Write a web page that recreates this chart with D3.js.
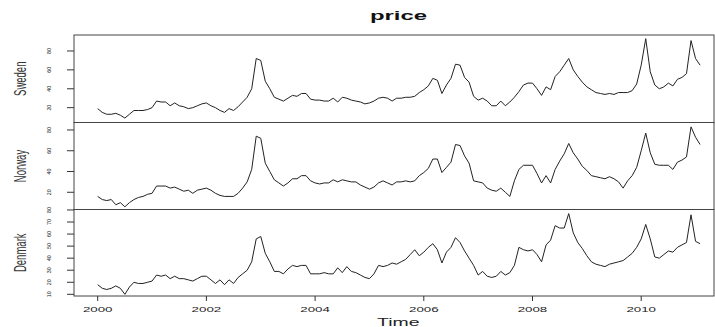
<!DOCTYPE html>
<html>
<head>
<meta charset="utf-8">
<script src="https://cdn.jsdelivr.net/npm/d3@7"></script>
<style>
  body { margin: 0; background: #fff; }
  svg { display: block; font-family: "Liberation Sans", Arial, sans-serif; }
</style>
</head>
<body>
<svg id="chart" width="715" height="327"></svg>
<script>
// monthly series, Jan 2000 .. Feb 2011
const startYear = 2000;
const freq = 12;

const sweden = [19,15,13,13,14,12,9,13,17,17,17,18,20,27,26,26,22,25,22,21,19,20,22,24,
  25,22,20,17,15,19,17,21,26,31,40,72,70,48,40,31,29,27,30,33,32,35,35,29,
  28,28,27,27,30,26,31,30,28,27,26,24,25,27,30,31,30,27,30,30,31,31,32,36,
  39,43,51,49,35,44,51,66,65,52,47,32,28,30,27,22,22,27,22,26,31,37,44,46,
  46,40,33,42,39,53,58,65,72,60,53,47,42,39,36,35,34,35,34,36,36,36,38,45,
  65,93,58,44,40,42,46,43,50,52,56,91,72,65];

const norway = [16,13,12,13,8,10,6,10,13,15,16,18,19,26,26,26,24,25,23,21,22,19,22,23,
  24,22,19,17,16,16,16,19,24,30,42,74,72,48,40,32,29,26,29,33,33,36,36,31,
  29,28,29,29,32,30,32,31,30,30,27,25,23,25,29,31,29,27,30,30,31,30,31,36,
  39,43,52,52,39,44,49,66,65,55,48,31,30,29,24,22,21,24,20,16,31,42,46,46,
  46,38,29,36,29,42,50,57,67,58,52,45,41,36,35,34,33,35,33,30,24,31,36,44,
  60,77,58,47,46,46,46,42,49,51,54,83,73,66];

const denmark = [18,15,14,15,17,15,10,16,20,19,19,20,21,26,25,26,23,25,23,23,22,21,23,25,
  25,22,19,22,18,22,19,24,27,30,37,56,58,44,37,29,29,27,31,34,33,34,34,27,
  27,27,28,27,27,32,28,33,29,28,26,24,23,27,34,33,34,36,35,37,39,43,47,42,
  45,49,52,47,36,45,49,57,53,46,40,34,26,29,25,24,25,29,26,28,34,49,47,46,
  47,43,37,51,55,67,65,65,77,61,53,48,42,37,35,34,33,35,36,37,38,41,44,49,
  56,68,56,41,40,43,46,45,49,51,53,76,54,52];

const panelNames = ["Sweden", "Norway", "Denmark"];
const panelSeries = [sweden, norway, denmark];
const panelDomains = [[4.3, 96.9], [3.4, 87.2], [8.6, 80.4]];
const panelTicks = [[20, 40, 60, 80], [20, 40, 60, 80], [10, 20, 30, 40, 50, 60, 70, 80]];
const yearTicks = [2000, 2002, 2004, 2006, 2008, 2010];

const svg = d3.select("#chart");
const left = 74, right = 714;
const panelEdges = [35, 122.5, 209.5, 296];

const x = d3.scaleLinear().domain([2000, 2010]).range([97.7, 641.2]);

// squashed text like the original raster
function squash(sel, factor) {
  sel.each(function() {
    const n = d3.select(this);
    const w = this.getComputedTextLength();
    n.attr("textLength", w * factor).attr("lengthAdjust", "spacingAndGlyphs");
  });
}

panelNames.forEach((name, p) => {
  const top = panelEdges[p], bottom = panelEdges[p + 1];
  const y = d3.scaleLinear().domain(panelDomains[p]).range([bottom, top]);
  const data = panelSeries[p].map((v, i) => ({ t: startYear + i / freq, v: v }));

  const line = d3.line().x(d => x(d.t)).y(d => y(d.v));
  svg.append("path")
    .datum(data)
    .attr("d", line)
    .attr("fill", "none")
    .attr("stroke", "#222")
    .attr("stroke-width", 1)
    .attr("stroke-linejoin", "round");

  svg.append("rect")
    .attr("x", left).attr("y", top)
    .attr("width", right - left).attr("height", bottom - top)
    .attr("fill", "none")
    .attr("stroke", "#444")
    .attr("stroke-width", 1);

  // y ticks
  const g = svg.append("g");
  g.selectAll("line")
    .data(panelTicks[p])
    .join("line")
    .attr("x1", 67).attr("x2", left)
    .attr("y1", d => y(d)).attr("y2", d => y(d))
    .attr("stroke", "#333");

  g.selectAll("text")
    .data(panelTicks[p])
    .join("text")
    .attr("transform", d => `translate(51,${y(d)}) rotate(-90)`)
    .attr("text-anchor", "middle")
    .attr("font-size", 6.2)
    .attr("fill", "#222")
    .text(d => d)
    .call(squash, 0.85);

  svg.append("text")
    .attr("transform", `translate(25.5,${(top + bottom) / 2}) rotate(-90)`)
    .attr("text-anchor", "middle")
    .attr("font-size", 17)
    .attr("fill", "#333")
    .text(name)
    .call(squash, 0.56);
});

// x axis on bottom panel
const bottomY = panelEdges[3];
const xg = svg.append("g");
xg.selectAll("line")
  .data(yearTicks)
  .join("line")
  .attr("x1", d => x(d)).attr("x2", d => x(d))
  .attr("y1", bottomY).attr("y2", bottomY + 5)
  .attr("stroke", "#333");

xg.selectAll("text")
  .data(yearTicks)
  .join("text")
  .attr("x", d => x(d))
  .attr("y", 311.7)
  .attr("text-anchor", "middle")
  .attr("font-size", 7)
  .attr("fill", "#222")
  .text(d => d)
  .call(squash, 1.9);

svg.append("text")
  .attr("x", 398.3).attr("y", 325.7)
  .attr("text-anchor", "middle")
  .attr("font-size", 10)
  .attr("fill", "#222")
  .text("Time")
  .call(squash, 1.94);

svg.append("text")
  .attr("x", 398.5).attr("y", 20.3)
  .attr("text-anchor", "middle")
  .attr("font-size", 12)
  .attr("font-weight", "bold")
  .attr("fill", "#111")
  .text("price")
  .call(squash, 1.99);
</script>
</body>
</html>
